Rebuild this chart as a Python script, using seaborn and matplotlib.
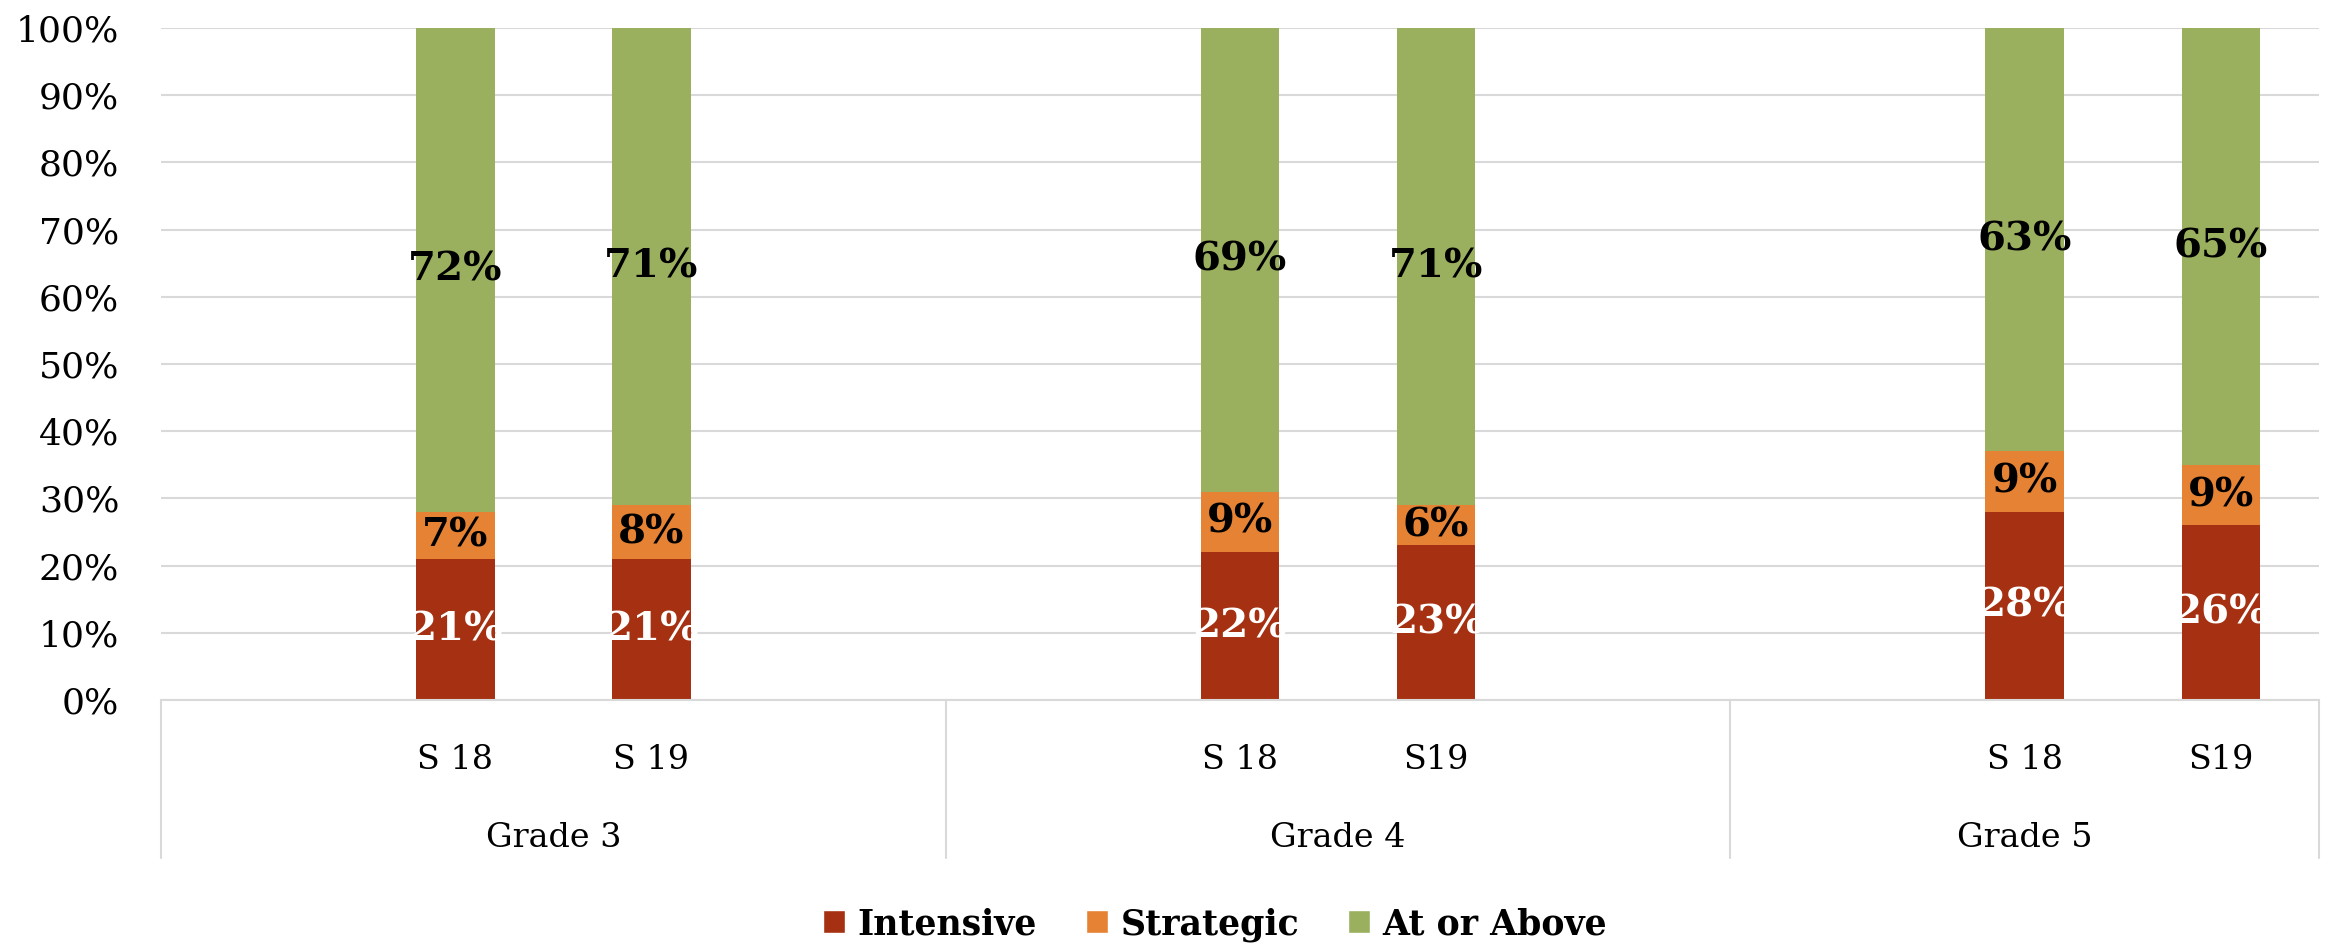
import matplotlib
matplotlib.use("Agg")
import matplotlib.pyplot as plt
import matplotlib.transforms as mtransforms
from matplotlib.patches import Patch
from matplotlib.ticker import PercentFormatter
import pandas as pd
import seaborn as sns

# data
grades = ["Grade 3", "Grade 4", "Grade 5"]
slots_per_grade = [4, 4, 3]          # excel category slots per grade (incl. empty ones)
seasons = ["S 18", "S 19", "S 18", "S19", "S 18", "S19"]
bar_grade = [0, 0, 1, 1, 2, 2]
bar_slot = [1, 2, 1, 2, 1, 2]        # slot inside the grade block
intensive = [21, 21, 22, 23, 28, 26]
strategic = [7, 8, 9, 6, 9, 9]
at_or_above = [72, 71, 69, 71, 63, 65]

levels = ["Intensive", "Strategic", "At or Above"]
colors = ["#A53112", "#E68233", "#9BB05E"]

order = [f"{g}-{k}" for g, n in zip(grades, slots_per_grade) for k in range(n)]
df = pd.DataFrame({
    "slot": [f"{grades[g]}-{k}" for g, k in zip(bar_grade, bar_slot)],
    "season": seasons,
    "intensive": intensive,
    "strategic": strategic,
    "above": at_or_above,
})
df["lower"] = df["intensive"] + df["strategic"]
df["total"] = df["lower"] + df["above"]

sns.set_theme(style="white")
plt.rcParams["font.family"] = ["DejaVu Serif"]
plt.rcParams["text.color"] = "black"
plt.rcParams["xtick.color"] = "black"
plt.rcParams["ytick.color"] = "black"

fig = plt.figure(figsize=(23.41, 9.47), dpi=100)
ax = fig.add_axes([161 / 2341, 1 - 700 / 947, (2319 - 161) / 2341, 672 / 947])

# stacked bars: draw cumulative heights from the top down
for col, c in zip(["total", "lower", "intensive"], colors[::-1]):
    sns.barplot(data=df, x="slot", y=col, order=order, color=c, width=0.4,
                saturation=1, errorbar=None, ax=ax, zorder=2, linewidth=0)

# segment labels
for i, row in df.iterrows():
    x = order.index(row["slot"])
    segs = [(0, row["intensive"], "white"),
            (row["intensive"], row["strategic"], "black"),
            (row["lower"], row["above"], "black")]
    for bottom, h, tc in segs:
        ax.text(x, bottom + h / 2, f"{h}%", ha="center", va="center",
                color=tc, fontsize=29, fontweight="bold", zorder=3)

ax.set_ylim(0, 100)
ax.set_yticks(range(0, 101, 10))
ax.yaxis.set_major_formatter(PercentFormatter(decimals=0))
ax.grid(axis="y", color="#D9D9D9", linewidth=1.5, zorder=0)
ax.set_axisbelow(True)
for s in ["top", "right", "left"]:
    ax.spines[s].set_visible(False)
ax.spines["bottom"].set_color("#D9D9D9")
ax.spines["bottom"].set_linewidth(1.5)
ax.tick_params(axis="y", length=0, pad=30, labelsize=26)

ax.set_xticks(range(len(order)))
tick_lbls = ["" for _ in order]
for i, row in df.iterrows():
    tick_lbls[order.index(row["slot"])] = row["season"]
ax.set_xticklabels(tick_lbls)
ax.tick_params(axis="x", length=0, pad=32, labelsize=24)
ax.set_xlabel("")
ax.set_ylabel("")

# second level of the category axis
trans = mtransforms.blended_transform_factory(ax.transData, ax.transAxes)
start = -0.5
edges = [start]
for g, n in zip(grades, slots_per_grade):
    ax.text(start + n / 2, -0.205, g, transform=trans, ha="center", va="center", fontsize=24)
    start += n
    edges.append(start)
for e in edges:
    ax.plot([e, e], [0, -0.235], transform=trans, color="#D9D9D9", linewidth=1.5, clip_on=False)
ax.set_xlim(-0.5, sum(slots_per_grade) - 0.5)

handles = [Patch(facecolor=c, label=l) for c, l in zip(colors, levels)]
fig.legend(handles=handles, loc="center", bbox_to_anchor=(0.519, 0.024), ncol=3,
           frameon=False, prop={"size": 25, "weight": "bold"},
           handlelength=0.65, handleheight=0.65, handletextpad=0.35, columnspacing=1.4)

fig.savefig("out.png", dpi=100)
